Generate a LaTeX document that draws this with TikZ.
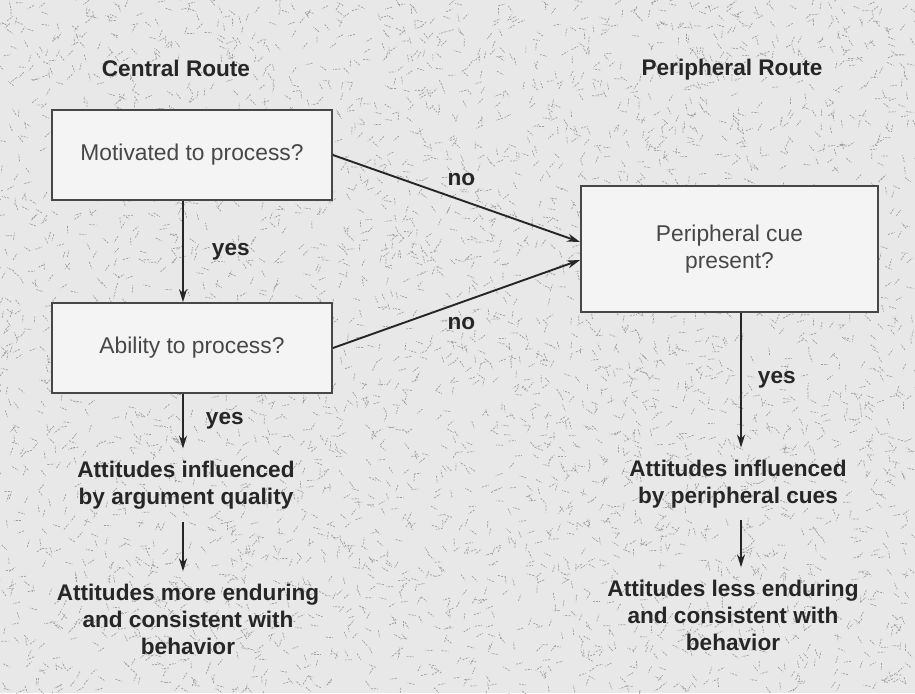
\documentclass[tikz,border=0pt]{standalone}
\usepackage{fontspec}
\setmainfont{Liberation Sans}
\usepackage{tikz}
\usetikzlibrary{arrows.meta,positioning,calc}
\definecolor{paper}{HTML}{E8E8E8}
\definecolor{speck}{HTML}{9C9C9C}
\definecolor{ink}{HTML}{262626}
\definecolor{boxfill}{HTML}{F4F4F4}
\definecolor{boxtext}{HTML}{474747}

\begin{document}
\begin{tikzpicture}[x=0.5pt,y=-0.5pt,font=\fontsize{11.3}{13.5}\selectfont\bfseries,
  question/.style={draw=ink!85,line width=0.9pt,fill=boxfill,minimum width=140pt,minimum height=45pt,
    font=\fontsize{11.4}{13.5}\selectfont\mdseries,text=boxtext,align=center},
  outcome/.style={align=center,text=ink,inner sep=6pt},
  lbl/.style={text=ink,inner sep=0pt},
  arr/.style={draw=ink,line width=0.95pt,-{Stealth[length=6.5pt,width=4pt]}}]
  \useasboundingbox (0,0) rectangle (915,693);
  % speckled paper
  \fill[paper] (0,0) rectangle (915,693);
  \pgfmathsetseed{42}
  \foreach \k in {1,...,4200}
    \draw[speck,line width=0.35pt,dash pattern=on 1pt off 0.6pt] ({rnd*915},{rnd*693}) -- ++({rnd*360}:7);

  \node[lbl,anchor=base] (central) at (176,76) {Central Route};
  \node[lbl,anchor=base] (peripheral) at (732,75) {Peripheral Route};

  \node[question] (motiv) at (192,155) {Motivated to process?};
  \node[question] (ability) at (192,348) {Ability to process?};
  \node[question,minimum width=148.5pt,minimum height=63pt] (cue) at (729.5,249) {Peripheral cue\\present?};

  \node[outcome] (argq) at (186,485) {Attitudes influenced\\by argument quality};
  \node[outcome] (moreend) at (188,619) {Attitudes more enduring\\and consistent with\\behavior};
  \node[outcome] (periph) at (738,484) {Attitudes influenced\\by peripheral cues};
  \node[outcome] (lessend) at (733,615) {Attitudes less enduring\\and consistent with\\behavior};

  \draw[arr] ([xshift=-4.5pt]motiv.south) -- ([xshift=-4.5pt]ability.north) node[lbl,midway,right=14pt] (yes1) {yes};
  \draw[arr] (motiv.east) -- ([yshift=3.5pt]cue.west) node[lbl,pos=0.52,above=7pt] (no1) {no};
  \draw[arr] (ability.east) -- ([yshift=-5.5pt]cue.west) node[lbl,pos=0.52,below=7pt] (no2) {no};
  \draw[arr] ([xshift=-4.5pt]ability.south) -- ([xshift=-4.5pt]ability.south |- argq.north) node[lbl,midway,right=11pt] (yes2) {yes};
  \draw[arr] ([xshift=-1.5pt]argq.south) -- ([xshift=-1.5pt]argq.south |- moreend.north);
  \draw[arr] ([xshift=1.5pt]periph.north |- cue.south) -- ([xshift=1.5pt]periph.north) node[lbl,midway,right=8pt] (yes3) {yes};
  \draw[arr] ([xshift=1.5pt]periph.south) -- ([xshift=1.5pt]periph.south |- lessend.north);
\end{tikzpicture}
\end{document}
